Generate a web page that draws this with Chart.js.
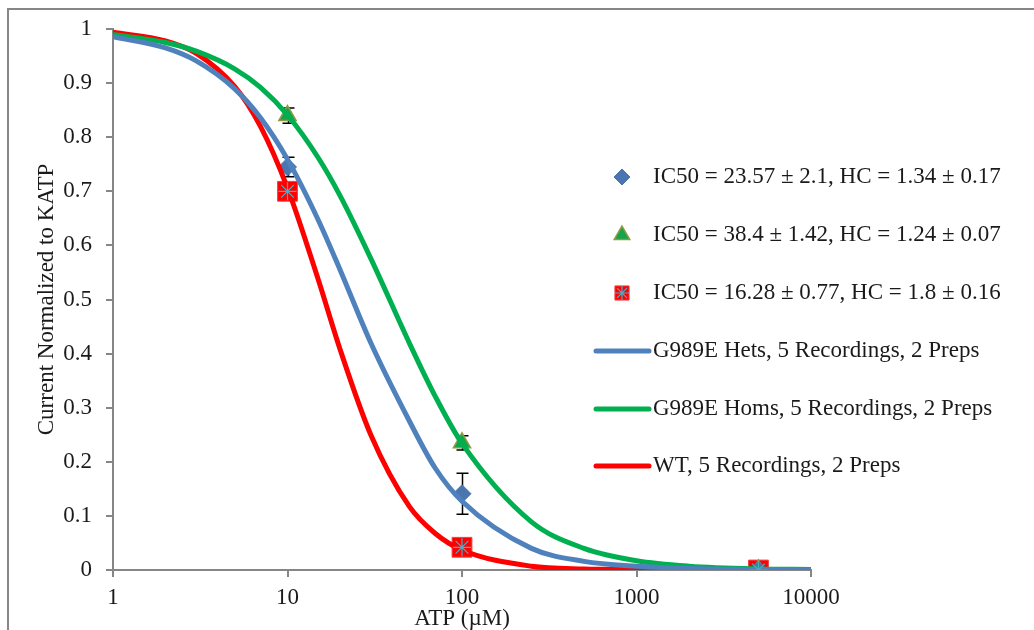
<!DOCTYPE html>
<html>
<head>
<meta charset="utf-8">
<script src="https://cdn.jsdelivr.net/npm/chart.js@4.4.1/dist/chart.umd.min.js"></script>
<style>
  html, body { margin: 0; padding: 0; background: #fff; }
  #wrap { width: 1034px; height: 630px; position: relative; }
</style>
</head>
<body>
<div id="wrap"><canvas id="atpChart"></canvas></div>
<script>
// fitted curves
const curveAtp = [1, 2, 3, 5, 7, 10, 15, 20, 30, 50, 70, 100, 250, 500, 1000, 2000, 5000, 10000];
const hetsCurve = [0.986, 0.965, 0.941, 0.889, 0.836, 0.759, 0.647, 0.555, 0.420, 0.275, 0.189, 0.127, 0.040, 0.016, 0.007, 0.003, 0.001, 0.000];
const homsCurve = [0.990, 0.975, 0.959, 0.926, 0.892, 0.841, 0.762, 0.692, 0.576, 0.419, 0.322, 0.234, 0.089, 0.040, 0.017, 0.007, 0.002, 0.001];
const wtCurve = [0.994, 0.978, 0.955, 0.893, 0.820, 0.706, 0.537, 0.408, 0.250, 0.117, 0.068, 0.037, 0.007, 0.002, 0.001, 0.000, 0.000, 0.000];

// measured points (mean and error)
const pointAtp = [10, 100, 5000];
const hetsMean = [0.745, 0.141, 0];
const hetsErr = [0.018, 0.038, 0];
const homsMean = [0.840, 0.235, 0];
const homsErr = [0.014, 0.013, 0];
const wtMean = [0.700, 0.042, 0];
const wtErr = [0.008, 0.006, 0];

const xTickValues = [1, 10, 100, 1000, 10000];
const yTickValues = [0, 0.1, 0.2, 0.3, 0.4, 0.5, 0.6, 0.7, 0.8, 0.9, 1];

const fitLabels = [
  "IC50 = 23.57 \u00b1 2.1, HC = 1.34 \u00b1 0.17",
  "IC50 = 38.4 \u00b1 1.42, HC = 1.24 \u00b1 0.07",
  "IC50 = 16.28 \u00b1 0.77, HC = 1.8 \u00b1 0.16",
];
const lineLabels = [
  "G989E Hets, 5 Recordings, 2 Preps",
  "G989E Homs, 5 Recordings, 2 Preps",
  "WT, 5 Recordings, 2 Preps",
];

const FONT = '"Liberation Serif", "DejaVu Serif", serif';
const FONT_SIZE = 23;
const TEXT = "#1a1a1a";
const AXIS_GREY = "#868686";
const BLUE = "#4f81bd";
const GREEN = "#00b050";
const RED = "#ff0000";
const TEAL = "#4bacc6";

const toXY = (xs, ys) => xs.map((x, i) => ({ x, y: ys[i] }));

function markerSet(label, ys, errs, style) {
  return Object.assign({
    type: "scatter",
    label,
    data: toXY(pointAtp, ys),
    errors: errs,
    showLine: false,
    order: 2,
  }, style);
}

function curveSet(label, ys, color) {
  return {
    type: "line",
    label,
    data: toXY(curveAtp, ys),
    borderColor: color,
    borderWidth: 5,
    pointRadius: 0,
    fill: false,
    cubicInterpolationMode: "monotone",
    order: 1,
  };
}

const frame = {
  id: "frame",
  beforeDraw(chart) {
    const { ctx } = chart;
    ctx.save();
    ctx.fillStyle = "#fff";
    ctx.fillRect(0, 0, chart.width, chart.height);
    ctx.strokeStyle = AXIS_GREY;
    ctx.lineWidth = 2;
    ctx.beginPath();
    ctx.moveTo(8, chart.height + 5);
    ctx.lineTo(8, 9);
    ctx.lineTo(chart.width + 5, 9);
    ctx.stroke();
    ctx.restore();
  },
};

const errorBars = {
  id: "errorBars",
  beforeDatasetsDraw(chart) {
    const { ctx, scales } = chart;
    ctx.save();
    ctx.strokeStyle = "#000";
    ctx.lineWidth = 1.5;
    chart.data.datasets.forEach((ds) => {
      if (!ds.errors) return;
      ds.data.forEach((p, i) => {
        const e = ds.errors[i];
        if (!e) return;
        const x = Math.round(scales.x.getPixelForValue(p.x)) + 0.5;
        const yTop = scales.y.getPixelForValue(p.y + e);
        const yBot = scales.y.getPixelForValue(p.y - e);
        ctx.beginPath();
        ctx.moveTo(x, yTop);
        ctx.lineTo(x, yBot);
        ctx.moveTo(x - 6, yTop);
        ctx.lineTo(x + 6, yTop);
        ctx.moveTo(x - 6, yBot);
        ctx.lineTo(x + 6, yBot);
        ctx.stroke();
      });
    });
    ctx.restore();
  },
};

const insideLegend = {
  id: "insideLegend",
  afterDraw(chart) {
    const { ctx } = chart;
    const ds = chart.data.datasets;
    const drawPoint = Chart.helpers.drawPoint;
    ctx.save();
    ctx.font = FONT_SIZE + "px " + FONT;
    ctx.textBaseline = "middle";

    const markerRows = [
      { y: 177, sets: [0], radius: 8 },
      { y: 235, sets: [1], radius: 9 },
      { y: 293, sets: [2, 3], radius: 10 },
    ];
    markerRows.forEach((row, i) => {
      row.sets.forEach((k) => {
        const d = ds[k];
        ctx.fillStyle = d.backgroundColor;
        ctx.strokeStyle = d.borderColor;
        ctx.lineWidth = d.borderWidth;
        drawPoint(ctx, { pointStyle: d.pointStyle, radius: k === 3 ? 7 : row.radius, rotation: 0, borderWidth: d.borderWidth }, 622, row.y);
      });
      ctx.fillStyle = TEXT;
      ctx.fillText(fitLabels[i], 653, row.y);
    });

    [351, 409, 466].forEach((y, i) => {
      const d = ds[4 + i];
      ctx.strokeStyle = d.borderColor;
      ctx.lineWidth = 5;
      ctx.lineCap = "round";
      ctx.beginPath();
      ctx.moveTo(596, y);
      ctx.lineTo(649, y);
      ctx.stroke();
      ctx.fillStyle = TEXT;
      ctx.fillText(lineLabels[i], 653, y);
    });
    ctx.restore();
  },
};

new Chart(document.getElementById("atpChart"), {
  data: {
    datasets: [
      markerSet("Hets mean", hetsMean, hetsErr, {
        pointStyle: "rectRot", pointRadius: 9, backgroundColor: "#4a76b0", borderColor: "#4a76b0", borderWidth: 1,
      }),
      markerSet("Homs mean", homsMean, homsErr, {
        pointStyle: "triangle", pointRadius: 10, backgroundColor: "#12a54a", borderColor: "#8f9a45", borderWidth: 1.5,
      }),
      markerSet("WT mean", wtMean, wtErr, {
        pointStyle: "rect", pointRadius: 14, backgroundColor: RED, borderColor: "#f04040", borderWidth: 1,
      }),
      markerSet("WT mean star", wtMean, null, {
        pointStyle: "star", pointRadius: 9, backgroundColor: "rgba(0,0,0,0)", borderColor: TEAL, borderWidth: 1.2, order: 0,
      }),
      curveSet(lineLabels[0], hetsCurve, BLUE),
      curveSet(lineLabels[1], homsCurve, GREEN),
      curveSet(lineLabels[2], wtCurve, RED),
    ],
  },
  options: {
    responsive: true,
    maintainAspectRatio: false,
    animation: false,
    events: [],
    layout: { padding: { top: 29, right: 223, bottom: 0, left: 0 } },
    plugins: {
      legend: { display: false },
      tooltip: { enabled: false },
    },
    scales: {
      x: {
        type: "logarithmic",
        min: 1,
        max: 10000,
        afterBuildTicks: (scale) => { scale.ticks = xTickValues.map((v) => ({ value: v })); },
        afterFit: (scale) => { scale.height = 60; },
        ticks: {
          color: TEXT,
          font: { family: FONT, size: FONT_SIZE },
          padding: 7,
          maxRotation: 0,
          callback: (v) => String(v),
        },
        grid: { drawOnChartArea: false, drawTicks: true, tickLength: 7, color: AXIS_GREY, lineWidth: 2 },
        border: { display: true, color: AXIS_GREY, width: 2 },
        title: {
          display: true,
          text: "ATP (\u00b5M)",
          color: TEXT,
          font: { family: FONT, size: FONT_SIZE },
          padding: { top: 0, bottom: -3 },
        },
      },
      y: {
        min: 0,
        max: 1,
        afterBuildTicks: (scale) => { scale.ticks = yTickValues.map((v) => ({ value: v })); },
        afterFit: (scale) => { scale.width = 113; },
        ticks: {
          color: TEXT,
          font: { family: FONT, size: FONT_SIZE },
          padding: 14,
          callback: (v) => String(Math.round(v * 10) / 10),
        },
        grid: { drawOnChartArea: false, drawTicks: true, tickLength: 7, color: AXIS_GREY, lineWidth: 2 },
        border: { display: true, color: AXIS_GREY, width: 2 },
        title: {
          display: true,
          text: "Current Normalized to KATP",
          color: TEXT,
          font: { family: FONT, size: FONT_SIZE },
          padding: { top: 33, bottom: 0 },
        },
      },
    },
  },
  plugins: [frame, errorBars, insideLegend],
});
</script>
</body>
</html>
